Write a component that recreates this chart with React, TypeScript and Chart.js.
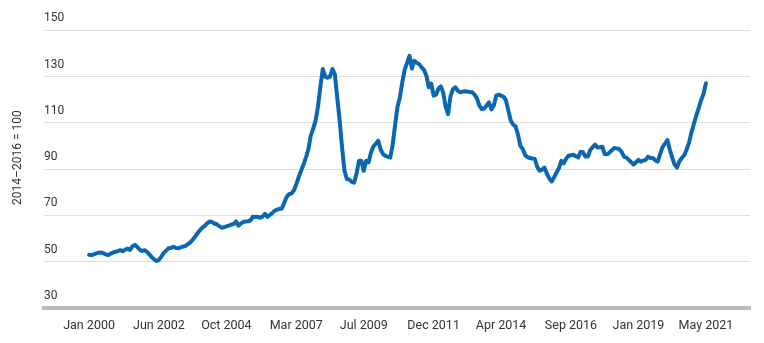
import React, { useEffect, useRef } from "react";
import { Chart, registerables } from "chart.js";

Chart.register(...registerables);

// FAO-style food price index, monthly, Jan 2000 – May 2021 (2014–2016 = 100)
const y2000 = [53.0, 52.8, 53.2, 53.6, 53.9, 54.0, 53.6, 53.1, 52.9, 53.5, 54.0, 54.3];
const y2001 = [54.6, 55.0, 54.5, 55.2, 55.7, 55.1, 56.6, 57.3, 56.4, 55.2, 54.6, 55.0];
const y2002 = [54.3, 53.2, 52.0, 51.0, 50.3, 50.8, 52.2, 53.8, 54.8, 55.8, 56.0, 56.4];
const y2003 = [56.0, 55.8, 56.2, 56.5, 56.8, 57.6, 58.3, 59.5, 60.8, 62.3, 63.6, 64.7];
const y2004 = [65.5, 66.6, 67.4, 67.2, 66.5, 66.2, 65.4, 64.7, 64.9, 65.3, 65.6, 66.0];
const y2005 = [66.3, 67.4, 65.6, 66.5, 67.2, 67.4, 67.5, 67.8, 69.5, 69.3, 69.4, 69.0];
const y2006 = [69.5, 70.7, 69.4, 70.2, 71.0, 72.0, 72.5, 72.8, 73.0, 75.5, 78.0, 79.2];
const y2007 = [79.5, 80.8, 83.5, 86.5, 89.3, 92.0, 95.0, 98.5, 104.5, 107.4, 111.0, 117.0];
const y2008 = [125.5, 133.3, 130.0, 129.5, 130.0, 133.3, 131.1, 121.0, 111.0, 99.4, 89.3, 85.7];
const y2009 = [85.5, 84.5, 84.2, 88.0, 93.6, 93.6, 89.3, 93.6, 92.9, 97.2, 99.8, 101.0];
const y2010 = [102.3, 98.5, 96.5, 95.8, 95.3, 95.0, 100.5, 109.0, 117.0, 121.0, 127.5, 133.0];
const y2011 = [136.0, 139.0, 133.5, 136.8, 136.0, 135.4, 134.0, 132.9, 130.4, 125.4, 127.0, 121.8];
const y2012 = [122.2, 124.8, 125.8, 123.0, 117.0, 113.8, 121.5, 124.5, 125.4, 124.0, 123.2, 123.5];
const y2013 = [123.7, 123.5, 123.3, 123.2, 122.2, 120.5, 117.5, 116.0, 116.2, 117.5, 118.9, 115.8];
const y2014 = [117.5, 121.8, 122.2, 121.8, 121.3, 119.8, 115.5, 111.0, 109.3, 108.5, 105.0, 100.0];
const y2015 = [98.7, 96.0, 95.2, 94.8, 94.6, 94.4, 91.0, 89.3, 89.8, 90.7, 88.0, 86.0];
const y2016 = [84.7, 86.5, 88.5, 90.5, 93.6, 92.5, 94.5, 95.8, 96.0, 96.2, 95.6, 95.1];
const y2017 = [97.5, 97.3, 95.5, 95.5, 98.3, 99.5, 100.6, 99.4, 99.5, 99.7, 96.5, 96.4];
const y2018 = [97.2, 98.2, 99.2, 99.0, 98.7, 97.5, 95.4, 95.0, 94.0, 93.0, 92.0, 93.0];
const y2019 = [94.0, 93.2, 93.8, 94.0, 95.4, 94.8, 94.8, 93.8, 93.3, 96.5, 99.5, 101.0];
const y2020 = [102.6, 98.5, 95.1, 92.0, 90.7, 93.4, 94.8, 96.0, 98.5, 101.5, 105.9, 109.5];
const y2021 = [113.1, 116.4, 119.8, 122.5, 127.1];

const indexValues = [
  ...y2000, ...y2001, ...y2002, ...y2003, ...y2004, ...y2005, ...y2006,
  ...y2007, ...y2008, ...y2009, ...y2010, ...y2011, ...y2012, ...y2013,
  ...y2014, ...y2015, ...y2016, ...y2017, ...y2018, ...y2019, ...y2020, ...y2021,
];

const monthNames = ["Jan", "Feb", "Mar", "Apr", "May", "Jun", "Jul", "Aug", "Sep", "Oct", "Nov", "Dec"];
const months = indexValues.map((_, i) => `${monthNames[i % 12]} ${2000 + Math.floor(i / 12)}`);

const tickLabels = ["Jan 2000", "Jun 2002", "Oct 2004", "Mar 2007", "Jul 2009", "Dec 2011", "Apr 2014", "Sep 2016", "Jan 2019", "May 2021"];
const yTicks = [30, 50, 70, 90, 110, 130, 150];
const yTitle = "2014–2016 = 100";

const FONT = "Roboto, 'Liberation Sans', Arial, sans-serif";

export default function App() {
  const ref = useRef<HTMLCanvasElement | null>(null);

  useEffect(() => {
    const canvas = ref.current;
    if (!canvas) return;
    const chart = new Chart(canvas, {
      type: "line",
      data: {
        datasets: [
          {
            data: indexValues.map((v, i) => ({ x: i, y: v })),
            borderColor: "#0b67b2",
            borderWidth: 4,
            pointRadius: 0,
            tension: 0,
            fill: false,
            borderJoinStyle: "round",
            borderCapStyle: "round",
          },
        ],
      },
      options: {
        animation: false,
        responsive: false,
        devicePixelRatio: 1,
        layout: { padding: { left: 4, right: 14, top: 0, bottom: 0 } },
        plugins: { legend: { display: false }, tooltip: { enabled: false } },
        scales: {
          x: {
            type: "linear",
            min: -18.7,
            max: 274.3,
            afterBuildTicks: (scale: any) => {
              scale.ticks = tickLabels.map((l) => ({ value: months.indexOf(l) }));
            },
            grid: { display: false, drawTicks: false },
            border: { display: true, color: "#b9bdbd", width: 4 },
            ticks: {
              autoSkip: false,
              maxRotation: 0,
              padding: 10,
              color: "#333333",
              font: { family: FONT, size: 12.5 },
              callback: (value: any) => months[Math.round(Number(value))] ?? "",
            },
          },
          y: {
            type: "linear",
            min: 30,
            max: 160,
            afterBuildTicks: (scale: any) => {
              scale.ticks = yTicks.map((v) => ({ value: v }));
            },
            grid: { color: "#dddddd", lineWidth: 1, drawTicks: false },
            border: { display: false },
            ticks: {
              mirror: true,
              padding: 0,
              labelOffset: -12,
              color: "#333333",
              font: { family: FONT, size: 12 },
            },
            title: {
              display: true,
              text: yTitle,
              color: "#333333",
              font: { family: FONT, size: 12 },
              padding: { top: 6.3, bottom: 19.3 },
            },
          },
        },
      },
    });
    return () => chart.destroy();
  }, []);

  return (
    <div style={{ position: "fixed", left: 0, top: 0, width: 764, height: 343, background: "#fff" }}>
      <canvas ref={ref} width={764} height={343} style={{ display: "block", width: 764, height: 343 }} />
    </div>
  );
}
